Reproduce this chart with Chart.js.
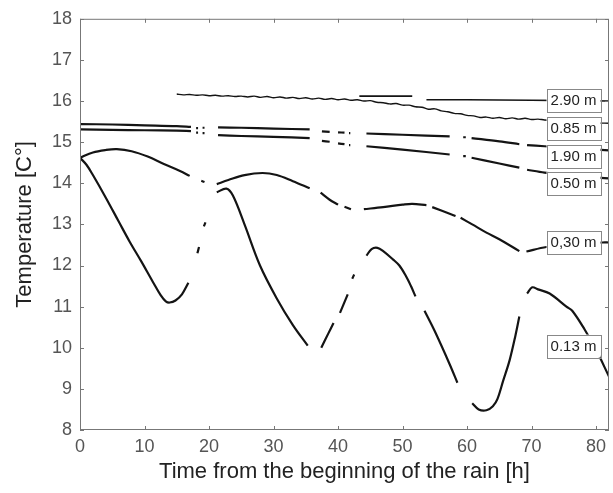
<!DOCTYPE html>
<html>
<head>
<meta charset="UTF-8">
<title>Temperature</title>
<script src="https://cdn.jsdelivr.net/npm/chart.js"></script>
<style>
    html, body { margin: 0; padding: 0; background: #fff; }
    #wrap { width: 613px; height: 493px; }
</style>
</head>
<body>
<div id="wrap"><canvas id="chart" width="613" height="493"></canvas></div>
<script>
// depth 0.13 m
const t013 = [0, 1, 2, 4, 6, 7.7, 9.5, 11.3, 12.5, 13.3, 13.9, 14.8, 15.8, 16.8, 17.4, 18.2, 18.45, 18.8, 19.2, 19.45, 20, 21.2, 22.7, 23.7, 25.5, 27.9, 30.5, 33, 35.3, 36.3,
    37.4, 38.5, 39.3, 39.8, 40.3, 41.5, 42, 42.2, 42.5, 43.3, 44.4, 45.2, 46.1, 47, 48.5, 49.5, 50.5, 51.3, 52, 52.6, 53.4, 55, 57.3, 58.5, 59.6,
    60.8, 61.8, 63, 64, 64.7, 65.6, 66.6, 67.5, 68.1, 68.7, 69.3, 70.1, 71, 72.8, 75.4, 76.3, 78.2, 80, 82];
const T013 = [14.62, 14.45, 14.2, 13.65, 13.07, 12.58, 12.1, 11.6, 11.28, 11.13, 11.1, 11.15, 11.3, 11.58, null, 12.3, 12.45, null, 12.95, 13.05, null, 13.78, 13.87, 13.7, 13.0, 12.0, 11.2, 10.55, 10.05, null,
    10.0, 10.35, 10.6, null, 10.85, 11.3, null, 11.68, 11.78, null, 12.24, 12.4, 12.43, 12.35, 12.15, 12.0, 11.75, 11.5, 11.25, null, 10.9, 10.4, 9.6, 9.15, null,
    8.65, 8.5, 8.48, 8.58, 8.75, 9.2, 9.7, 10.3, 10.76, null, 11.32, 11.47, 11.42, 11.32, 11.0, 10.9, 10.45, 9.95, 9.3];

// depth 0.30 m
const t030 = [0, 2, 4, 5.7, 8, 10.5, 13, 15.5, 17, 17.8, 18.8, 19.3, 20, 21.2, 23, 25.5, 28.3, 30.5, 33, 35.6, 36.5, 37.3, 38.7, 40, 40.5, 41, 42, 43,
    44, 47, 50, 51.5, 53.7, 54.2, 54.6, 57.6, 58.2, 58.6, 59, 60.8, 63, 65, 68.1, 68.6, 69.2, 72.3, 76, 81, 82];
const T030 = [14.62, 14.75, 14.81, 14.83, 14.78, 14.65, 14.47, 14.3, 14.18, null, 14.06, 14.03, null, 13.98, 14.08, 14.2, 14.25, 14.2, 14.05, 13.88, null, 13.77, 13.6, 13.48, null, 13.43, 13.37, null,
    13.37, 13.42, 13.48, 13.5, 13.47, null, 13.42, 13.24, 13.2, null, 13.16, 13.0, 12.8, 12.64, 12.35, null, 12.34, 12.45, 12.5, 12.56, 12.56];

// depth 0.50 m
const t050 = [0, 5, 10, 15, 17.2, 17.7, 18.0, 18.3, 18.6, 19.0, 19.3, 19.8, 21.4, 25, 30, 35.6, 36.5, 37.5, 38.7, 39.3, 40, 41, 41.4, 41.7, 41.9, 43,
    44.4, 50, 57.3, 58.5, 59.4, 59.8, 60.2, 60.7, 65, 68.1, 68.7, 69.3, 72, 77, 82];
const T050 = [15.31, 15.3, 15.29, 15.28, 15.27, null, 15.23, 15.23, null, 15.22, 15.22, null, 15.17, 15.15, 15.13, 15.1, null, 15.03, 15.01, null, 14.97, 14.95, null, 14.93, 14.93, null,
    14.9, 14.82, 14.7, null, 14.66, 14.66, null, 14.62, 14.48, 14.38, null, 14.33, 14.26, 14.18, 14.12];

// depth 0.85 m
const t085 = [15, 16, 17, 18, 19, 20, 21, 22, 23, 24, 25, 26, 27, 28, 29, 30, 31, 32, 33, 34, 35, 36, 37, 38, 39, 40, 41, 42, 43, 44, 45,
    46, 47, 48, 49, 50, 51, 52, 53, 54, 55, 56, 57, 58, 59, 60, 61, 62, 63, 64, 65, 66, 67, 68, 69, 70, 71, 72, 74, 76, 78, 80, 82];
const T085 = [16.17, 16.15, 16.16, 16.14, 16.15, 16.13, 16.14, 16.12, 16.13, 16.11, 16.12, 16.1, 16.12, 16.09, 16.11, 16.08, 16.1, 16.07, 16.09, 16.06, 16.08, 16.05, 16.07, 16.04, 16.06, 16.03, 16.05, 16.02, 16.03, 16.0, 16.01,
    15.97, 15.96, 15.93, 15.94, 15.9, 15.9, 15.86, 15.85, 15.8, 15.81, 15.76, 15.74, 15.7, 15.69, 15.65, 15.64, 15.6, 15.61, 15.58, 15.6, 15.57, 15.59, 15.56, 15.58, 15.55, 15.56, 15.54, 15.52, 15.5, 15.49, 15.47, 15.46];

// depth 1.90 m
const t190 = [0, 5, 10, 15, 17.2, 17.7, 18.0, 18.3, 18.6, 19.0, 19.3, 19.8, 21.4, 25, 30, 35.6, 36.5, 37.5, 38.7, 39.3, 40, 41, 41.4, 41.7, 41.9, 43,
    44.4, 50, 57.3, 58.5, 59.4, 59.8, 60.2, 60.7, 65, 68.1, 68.7, 69.3, 72, 77, 82];
const T190 = [15.44, 15.43, 15.41, 15.39, 15.37, null, 15.34, 15.34, null, 15.35, 15.35, null, 15.36, 15.35, 15.33, 15.31, null, 15.26, 15.25, null, 15.24, 15.23, null, 15.22, 15.22, null,
    15.21, 15.18, 15.14, null, 15.12, 15.12, null, 15.1, 15.02, 14.95, null, 14.93, 14.9, 14.85, 14.8];

// depth 2.90 m
const t290 = [43.3, 47, 51.5, 52.6, 53.7, 60, 70, 82];
const T290 = [16.12, 16.12, 16.12, null, 16.03, 16.03, 16.02, 16.0];

const xTicks = [0, 10, 20, 30, 40, 50, 60, 70, 80];
const yTicks = [8, 9, 10, 11, 12, 13, 14, 15, 16, 17, 18];

const depthLabels = ["2.90 m", "0.85 m", "1.90 m", "0.50 m", "0,30 m", "0.13 m"];
const labelTemps = [16.02, 15.34, 14.66, 14.0, 12.57, 10.04];
const labelTime = 76.5;

function pts(t, v) {
    return t.map((x, i) => ({ x: x, y: v[i] }));
}

function series(label, t, v, w) {
    return {
        label: label,
        data: pts(t, v),
        borderColor: "#141414",
        borderWidth: w,
        pointRadius: 0,
        fill: false,
        spanGaps: false,
        tension: 0.35
    };
}

const frame = {
    id: "frame",
    afterDatasetsDraw(chart) {
        const ctx = chart.ctx;
        const a = chart.chartArea;
        const xs = chart.scales.x;
        const ys = chart.scales.y;
        ctx.save();
        ctx.strokeStyle = "#777";
        ctx.lineWidth = 1;
        ctx.strokeRect(a.left + 0.5, a.top + 0.5, a.right - a.left - 1, a.bottom - a.top - 1);
        ctx.beginPath();
        xTicks.forEach(v => {
            const p = Math.round(xs.getPixelForValue(v)) + 0.5;
            ctx.moveTo(p, a.bottom); ctx.lineTo(p, a.bottom - 4);
            ctx.moveTo(p, a.top); ctx.lineTo(p, a.top + 4);
        });
        yTicks.forEach(v => {
            const p = Math.round(ys.getPixelForValue(v)) + 0.5;
            ctx.moveTo(a.left, p); ctx.lineTo(a.left + 4, p);
            ctx.moveTo(a.right, p); ctx.lineTo(a.right - 4, p);
        });
        ctx.stroke();

        ctx.font = "15px Arial, 'Liberation Sans', sans-serif";
        ctx.textAlign = "center";
        ctx.textBaseline = "middle";
        depthLabels.forEach((txt, i) => {
            const cx = xs.getPixelForValue(labelTime);
            const cy = ys.getPixelForValue(labelTemps[i]);
            const w = 54, h = 23;
            ctx.fillStyle = "#fff";
            ctx.fillRect(cx - w / 2, cy - h / 2, w, h);
            ctx.strokeStyle = "#888";
            ctx.strokeRect(Math.round(cx - w / 2) + 0.5, Math.round(cy - h / 2) + 0.5, w, h);
            ctx.fillStyle = "#222";
            ctx.fillText(txt, cx, cy + 1);
        });
        ctx.restore();
    }
};

new Chart(document.getElementById("chart"), {
    type: "line",
    data: {
        datasets: [
            series("0.13 m", t013, T013, 2.2),
            series("0.30 m", t030, T030, 2.2),
            series("0.50 m", t050, T050, 2.2),
            series("0.85 m", t085, T085, 1.4),
            series("1.90 m", t190, T190, 2.2),
            series("2.90 m", t290, T290, 1.6)
        ]
    },
    options: {
        responsive: false,
        animation: false,
        events: [],
        layout: { padding: { top: 14, right: 4, left: 0, bottom: 0 } },
        plugins: { legend: { display: false }, tooltip: { enabled: false } },
        scales: {
            x: {
                type: "linear",
                min: 0,
                max: 82,
                afterBuildTicks: s => { s.ticks = xTicks.map(v => ({ value: v })); },
                afterFit: s => { s.height = 63; },
                grid: { display: false, drawTicks: false },
                border: { display: false },
                ticks: { color: "#555", padding: 6, maxRotation: 0, font: { family: "Arial, 'Liberation Sans', sans-serif", size: 18 } },
                title: { display: true, text: "Time from the beginning of the rain [h]", color: "#222", padding: { top: 0, bottom: 8 }, font: { family: "Arial, 'Liberation Sans', sans-serif", size: 22 } }
            },
            y: {
                type: "linear",
                min: 8,
                max: 18,
                afterBuildTicks: s => { s.ticks = yTicks.map(v => ({ value: v })); },
                afterFit: s => { s.width = 80; },
                grid: { display: false, drawTicks: false },
                border: { display: false },
                ticks: { color: "#555", padding: 8, font: { family: "Arial, 'Liberation Sans', sans-serif", size: 18 } },
                title: { display: true, text: "Temperature [C°]", color: "#222", padding: { top: 12, bottom: 0 }, font: { family: "Arial, 'Liberation Sans', sans-serif", size: 22 } }
            }
        }
    },
    plugins: [frame]
});
</script>
</body>
</html>
